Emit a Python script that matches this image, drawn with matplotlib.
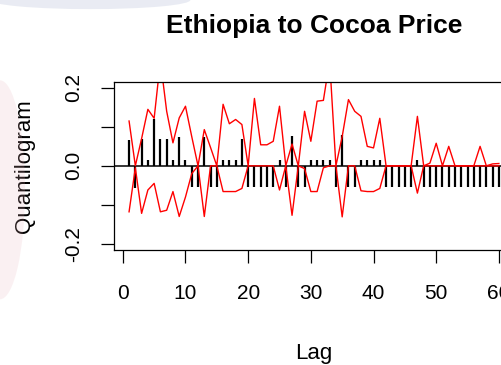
import matplotlib
matplotlib.use("Agg")
import matplotlib.pyplot as plt
from matplotlib.patches import Ellipse

plt.rcParams['font.family'] = ['Liberation Sans', 'DejaVu Sans']

lags = list(range(1, 61))

# sample quantilogram values (black spikes)
rho = [0.067, -0.057, 0.07, 0.015, 0.12, 0.07, 0.07, 0.015, 0.074, 0.015,
       -0.055, -0.055, 0.074, -0.055, -0.055, 0.015, 0.015, 0.015, 0.07, -0.055,
       -0.055, -0.055, -0.055, -0.055, 0.015, -0.055, 0.077, -0.055, -0.055, 0.015,
       0.015, 0.015, 0.015, -0.055, 0.078, -0.055, -0.055, 0.015, 0.015, 0.015,
       0.015, -0.055, -0.055, -0.055, -0.055, -0.055, 0.015, -0.055, -0.055, -0.055,
       -0.055, -0.055, -0.055, -0.055, -0.055, -0.055, -0.055, -0.055, -0.055, -0.055]

# upper / lower bands (red)
upper = [0.115, 0.0, 0.07, 0.145, 0.122, 0.27, 0.14, 0.059, 0.123, 0.153,
         0.075, 0.0, 0.093, 0.047, 0.0, 0.158, 0.108, 0.119, 0.106, 0.0,
         0.173, 0.054, 0.054, 0.063, 0.153, 0.0, 0.056, 0.0, 0.14, 0.063,
         0.166, 0.168, 0.27, 0.0, 0.075, 0.17, 0.14, 0.127, 0.05, 0.046,
         0.122, 0.0, 0.0, 0.0, 0.0, 0.0, 0.127, 0.0, 0.007, 0.058,
         0.0, 0.05, 0.0, 0.0, 0.0, 0.0, 0.05, 0.0, 0.005, 0.006]
lower = [-0.118, -0.005, -0.122, -0.062, -0.045, -0.118, -0.114, -0.066, -0.13, -0.08,
         -0.02, 0.0, -0.13, 0.0, 0.0, -0.066, -0.066, -0.066, -0.058, 0.0,
         0.0, 0.0, 0.0, 0.0, -0.062, 0.0, -0.127, 0.0, -0.007, -0.066,
         -0.066, -0.005, 0.0, 0.0, -0.131, 0.0, 0.0, -0.064, -0.066, -0.066,
         -0.058, 0.0, 0.0, 0.0, 0.0, 0.0, -0.07, 0.0, 0.0, 0.0,
         0.0, 0.0, 0.0, 0.0, 0.0, 0.0, 0.0, 0.0, 0.0, 0.0]

fig = plt.figure(figsize=(5.01, 3.65), dpi=100)

# faint watermark in the background
fig.patches.append(Ellipse((0.0, 0.48), 0.1, 0.6, transform=fig.transFigure,
                           facecolor='#e8b0b8', alpha=0.18, edgecolor='none', zorder=0))
fig.patches.append(Ellipse((0.18, 1.0), 0.4, 0.05, transform=fig.transFigure,
                           facecolor='#b8c0d8', alpha=0.3, edgecolor='none', zorder=0))

ax = fig.add_axes([0.2281, 0.3151, 0.7972, 0.4611])
ax.patch.set_alpha(0)

ax.vlines(lags, 0, rho, color='black', linewidth=1.6)
ax.axhline(0, color='black', linewidth=1.1)
ax.plot(lags, upper, color='red', linewidth=1.0)
ax.plot(lags, lower, color='red', linewidth=1.0)

ax.set_xlim(-1.36, 62.36)
ax.set_ylim(-0.216, 0.216)

ax.set_xticks([0, 10, 20, 30, 40, 50, 60])
ax.set_yticks([-0.2, -0.1, 0.0, 0.1, 0.2])
ax.set_yticklabels(['-0.2', '', '0.0', '', '0.2'], rotation=90, va='center')
ax.tick_params(axis='both', length=9.4, width=0.9, labelsize=15, direction='out')
ax.tick_params(axis='x', pad=15)
ax.tick_params(axis='y', pad=13)

for s in ax.spines.values():
    s.set_linewidth(0.9)

ax.set_title('Ethiopia to Cocoa Price', fontsize=19, fontweight='bold', pad=35)
ax.set_xlabel('Lag', fontsize=16, labelpad=29)
ax.set_ylabel('Quantilogram', fontsize=16, labelpad=21)

fig.savefig('out.png', dpi=100)
